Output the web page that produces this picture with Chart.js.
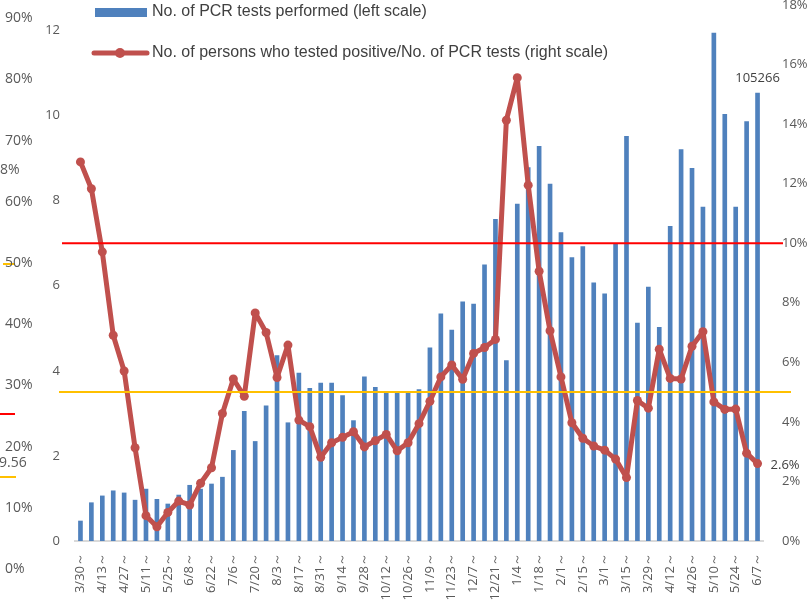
<!DOCTYPE html>
<html>
<head>
<meta charset="utf-8">
<script src="https://cdn.jsdelivr.net/npm/chart.js@4.4.1/dist/chart.umd.min.js"></script>
<style>
html, body { margin: 0; padding: 0; background: #fff; }
#wrap { position: relative; width: 812px; height: 613px; }
</style>
</head>
<body>
<div id="wrap"><canvas id="pcrChart" width="812" height="613"></canvas></div>
<script>
// weekly data, 3/30 (2020) to 6/7 (2021)
const weeks = ['3/30','4/6','4/13','4/20','4/27','5/4','5/11','5/18','5/25','6/1','6/8','6/15','6/22','6/29',
    '7/6','7/13','7/20','7/27','8/3','8/10','8/17','8/24','8/31','9/7','9/14','9/21','9/28','10/5','10/12',
    '10/19','10/26','11/2','11/9','11/16','11/23','11/30','12/7','12/14','12/21','12/28','1/4','1/11','1/18',
    '1/25','2/1','2/8','2/15','2/22','3/1','3/8','3/15','3/22','3/29','4/5','4/12','4/19','4/26','5/3','5/10',
    '5/17','5/24','5/31','6/7'];

// PCR tests per week, in units of 10,000
const pcrTests = [0.47,0.90,1.06,1.18,1.13,0.96,1.22,0.98,0.87,1.08,1.31,1.22,1.34,1.50,2.13,3.05,
    2.34,3.18,4.36,2.78,3.95,3.59,3.71,3.71,3.42,2.83,3.86,3.61,3.49,3.49,3.51,3.56,4.54,5.34,4.96,
    5.62,5.57,6.49,7.56,4.24,7.92,8.78,9.28,8.39,7.25,6.66,6.92,6.07,5.81,7.00,9.51,5.12,5.97,5.02,
    7.40,9.20,8.76,7.85,11.94,10.03,7.85,9.86,10.53];

// positive rate in %
const positiveRate = [12.73,11.83,9.71,6.91,5.71,3.13,0.85,0.48,0.96,1.34,1.21,1.94,2.46,4.28,5.44,4.86,
    7.66,7.00,5.49,6.58,4.06,3.84,2.81,3.30,3.48,3.67,3.16,3.37,3.58,3.03,3.30,3.94,4.69,5.51,5.91,
    5.43,6.30,6.50,6.77,14.13,15.56,11.95,9.06,7.06,5.51,3.97,3.45,3.19,3.05,2.75,2.13,4.72,4.46,6.44,
    5.46,5.44,6.54,7.03,4.67,4.42,4.43,2.95,2.6];

const farLeftTicks = ['0%','10%','20%','30%','40%','50%','60%','70%','80%','90%'];
const lastTestsLabel = '105266';
const lastRateLabel = '2.6%';
const redLevel = 10;    // right scale
const orangeLevel = 5;  // right scale

const barLabel = 'No. of PCR tests performed (left scale)';
const lineLabel = 'No. of persons who tested positive/No. of PCR tests (right scale)';

const BLUE = '#4F81BD';
const RED = '#C0504D';
const GREY = '#595959';

Chart.defaults.font.family = '"Open Sans", sans-serif';
Chart.defaults.font.size = 13;
Chart.defaults.color = GREY;

const extras = {
    id: 'extras',
    afterDatasetsDraw(chart) {
        const ctx = chart.ctx;
        const y1 = chart.scales.y1;
        ctx.save();

        // reference lines
        ctx.lineWidth = 2;
        ctx.strokeStyle = '#FF0000';
        ctx.beginPath();
        ctx.moveTo(62, y1.getPixelForValue(redLevel));
        ctx.lineTo(783, y1.getPixelForValue(redLevel));
        ctx.stroke();
        ctx.strokeStyle = '#FFC000';
        ctx.beginPath();
        ctx.moveTo(59, y1.getPixelForValue(orangeLevel));
        ctx.lineTo(791, y1.getPixelForValue(orangeLevel));
        ctx.stroke();

        // leftover marks at far left
        ctx.strokeStyle = '#FF0000';
        ctx.beginPath(); ctx.moveTo(0, 414); ctx.lineTo(15, 414); ctx.stroke();
        ctx.strokeStyle = '#FFC000';
        ctx.beginPath(); ctx.moveTo(0, 477); ctx.lineTo(16, 477); ctx.stroke();
        ctx.beginPath(); ctx.moveTo(3, 264); ctx.lineTo(15, 264); ctx.stroke();

        // far-left percent scale
        ctx.fillStyle = GREY;
        ctx.font = '14px "Open Sans", sans-serif';
        ctx.textAlign = 'left';
        ctx.textBaseline = 'middle';
        farLeftTicks.forEach((t, i) => ctx.fillText(t, 5, 569 - i * 61.2));
        ctx.fillText('8%', 0, 170);
        ctx.fillText('9.56', -1, 463);

        // value labels at the last week
        const bars = chart.getDatasetMeta(1).data;
        const pts = chart.getDatasetMeta(0).data;
        const lastBar = bars[bars.length - 1];
        const lastPt = pts[pts.length - 1];
        ctx.font = '13px "Open Sans", sans-serif';
        ctx.fillStyle = '#404040';
        ctx.textAlign = 'center';
        ctx.fillText(lastTestsLabel, lastBar.x, lastBar.y - 15);
        ctx.textAlign = 'left';
        ctx.fillText(lastRateLabel, lastPt.x + 13, lastPt.y + 2);

        // legend
        ctx.fillStyle = BLUE;
        ctx.fillRect(95, 8, 52, 9);
        ctx.strokeStyle = RED;
        ctx.lineWidth = 5;
        ctx.lineCap = 'round';
        ctx.beginPath(); ctx.moveTo(94, 53); ctx.lineTo(147, 53); ctx.stroke();
        ctx.fillStyle = RED;
        ctx.beginPath(); ctx.arc(120, 53, 5, 0, Math.PI * 2); ctx.fill();
        ctx.fillStyle = '#404040';
        ctx.font = '16px "Liberation Sans", Arial, sans-serif';
        ctx.fillText(barLabel, 152, 12);
        ctx.fillText(lineLabel, 152, 53);
        ctx.restore();
    }
};

function noPad(axis) {
    axis.paddingTop = 0;
    axis.paddingBottom = 0;
}

const ctx = document.getElementById('pcrChart').getContext('2d');
const myChart = new Chart(ctx, {
    data: {
        labels: weeks,
        datasets: [{
            type: 'line',
            label: lineLabel,
            data: positiveRate,
            yAxisID: 'y1',
            borderColor: RED,
            backgroundColor: RED,
            borderWidth: 5,
            borderJoinStyle: 'round',
            borderCapStyle: 'round',
            pointRadius: 4.5,
            pointBorderWidth: 0,
            pointBackgroundColor: RED,
            tension: 0,
            order: 0
        },
        {
            type: 'bar',
            label: barLabel,
            data: pcrTests,
            yAxisID: 'y',
            backgroundColor: BLUE,
            barThickness: 4,
            order: 1
        }]
    },
    options: {
        responsive: false,
        animation: false,
        layout: { padding: { top: 5, left: 0, right: 0, bottom: 0 } },
        plugins: {
            legend: { display: false },
            tooltip: { enabled: false }
        },
        scales: {
            x: {
                grid: { display: false },
                border: { color: '#D9D9D9', width: 2 },
                ticks: {
                    autoSkip: false,
                    minRotation: 90,
                    maxRotation: 90,
                    padding: 4,
                    callback: (v, i) => i % 2 === 0 ? weeks[i] + '～' : ''
                },
                afterFit: (axis) => { axis.height = 72; axis.paddingLeft = 0; axis.paddingRight = 0; }
            },
            y: {
                position: 'left',
                min: 0,
                max: 12.6,
                grid: { display: false, drawTicks: false },
                border: { display: false },
                ticks: {
                    stepSize: 2,
                    includeBounds: false,
                    padding: 15
                },
                afterFit: (axis) => { axis.width = 75; noPad(axis); }
            },
            y1: {
                position: 'right',
                min: 0,
                max: 18,
                grid: { display: false, drawTicks: false },
                border: { display: false },
                ticks: {
                    stepSize: 2,
                    padding: 19,
                    callback: (v) => v + '%'
                },
                afterFit: (axis) => { axis.width = 49; noPad(axis); }
            }
        }
    },
    plugins: [extras]
});
</script>
</body>
</html>
